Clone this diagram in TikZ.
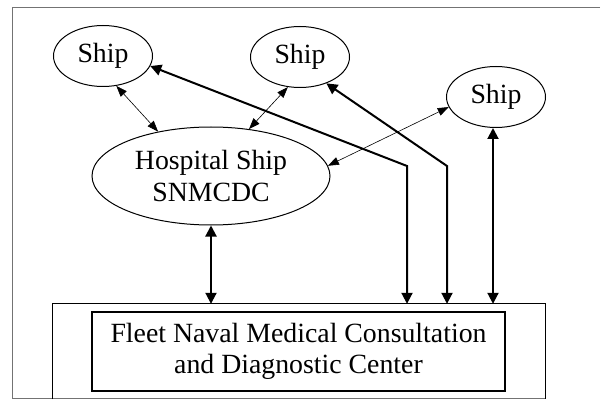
\documentclass[tikz,border=0pt]{standalone}
\usepackage{fontspec}
\setmainfont{Liberation Serif}
\usetikzlibrary{arrows.meta,shapes.geometric}
\begin{document}
\begin{tikzpicture}[x=1pt,y=-1pt,
  every node/.style={font=\fontsize{27.8}{31.5}\selectfont},
  shipnode/.style={draw,ellipse,line width=1pt,inner sep=0pt,minimum width=99pt,minimum height=61pt},
  boxline/.style={line width=1.1pt},
  framebox/.style={line width=0.9pt,draw=black!55},
  heavy/.style={line width=2pt,{Triangle[length=11pt,width=11pt]}-{Triangle[length=11pt,width=11pt]}},
  light/.style={line width=0.6pt,{Triangle[length=11pt,width=8pt]}-{Triangle[length=11pt,width=8pt]}}]
\useasboundingbox (0,0) rectangle (602,401);
% frame
\coordinate (f1) at (600,7);
\coordinate (f2) at (12,7);
\coordinate (f3) at (12,398);
\coordinate (f4) at (545,398);
\draw[framebox] (f1) -- (f2) -- (f3) -- (f4);
% ships
\node[shipnode] (s1) at (103,56) {Ship};
\node[shipnode] (s2) at (300,57) {Ship};
\node[shipnode] (s3) at (496,97) {Ship};
% hospital ship
\node[draw,ellipse,line width=1pt,inner sep=0pt,minimum width=238pt,minimum height=98pt,align=center] (hs) at (211,176) {Hospital Ship\\SNMCDC};
% outer and inner boxes
\node[inner sep=0pt,minimum width=492pt,minimum height=95pt] (ob) at (299,351.5) {};
\draw[boxline] (ob.south west) -- (ob.north west) -- (ob.north east) -- (ob.south east);
\node[draw,boxline,inner sep=0pt,minimum width=413pt,minimum height=79pt,align=center] (fn) at (298.5,351.5) {Fleet Naval Medical Consultation\\and Diagnostic Center};
% bend points
\coordinate (b1) at (407,166);
\coordinate (b2) at (447,166);
\coordinate (b3) at (493,200);
% heavy connectors
\draw[heavy] (s1.-12) -- (b1) -- (b1 |- ob.north);
\draw[heavy] (s2.-45) -- (b2) -- (b2 |- ob.north);
\draw[heavy] (b3 |- s3.south) -- (b3 |- ob.north);
\draw[heavy] (hs.south) -- (hs.south |- ob.north);
% light connectors
\draw[light] (s1.-66) -- (hs.140);
\draw[light] (s2.-112) -- (hs.51);
\draw[light] (s3.192) -- (hs.5);
\end{tikzpicture}
\end{document}
